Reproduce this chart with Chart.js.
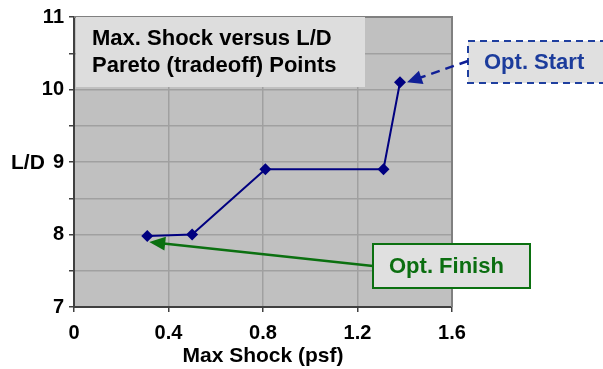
<!DOCTYPE html>
<html>
<head>
<meta charset="utf-8">
<script src="https://cdn.jsdelivr.net/npm/chart.js@4/dist/chart.umd.min.js"></script>
<style>
  html, body { margin: 0; padding: 0; background: #ffffff; }
  #wrap { width: 603px; height: 369px; position: relative; }
</style>
</head>
<body>
<div id="wrap"><canvas id="c" width="603" height="369"></canvas></div>
<script>
// Pareto points: maximum sonic-boom shock vs. lift/drag
const maxShock = [0.31, 0.5, 0.81, 1.31, 1.38];
const liftDrag = [7.98, 8.0, 8.9, 8.9, 10.1];
const xTickValues = [0, 0.4, 0.8, 1.2, 1.6];
const yTickValues = [7, 8, 9, 10, 11];
const titleLines = ['Max. Shock versus L/D', 'Pareto (tradeoff) Points'];
const startLabel = 'Opt. Start';
const finishLabel = 'Opt. Finish';
const startIndex = maxShock.length - 1;
const finishIndex = 0;

const FONT = "'Liberation Sans', Arial, sans-serif";

function arrowHead(ctx, x0, y0, x1, y1, len, half, color) {
  const a = Math.atan2(y1 - y0, x1 - x0);
  ctx.save();
  ctx.fillStyle = color;
  ctx.beginPath();
  ctx.moveTo(x1, y1);
  ctx.lineTo(x1 - len * Math.cos(a) + half * Math.sin(a), y1 - len * Math.sin(a) - half * Math.cos(a));
  ctx.lineTo(x1 - len * Math.cos(a) - half * Math.sin(a), y1 - len * Math.sin(a) + half * Math.cos(a));
  ctx.closePath();
  ctx.fill();
  ctx.restore();
}

const decorations = {
  id: 'decorations',
  beforeDatasetsDraw(chart) {
    const { ctx, chartArea: a } = chart;
    // frame on top and right sides
    ctx.save();
    ctx.strokeStyle = '#808080';
    ctx.lineWidth = 2;
    ctx.beginPath();
    ctx.moveTo(a.left, a.top);
    ctx.lineTo(a.right, a.top);
    ctx.lineTo(a.right, a.bottom);
    ctx.stroke();
    // title box inside the plot
    ctx.fillStyle = '#dddddd';
    ctx.fillRect(a.left + 2, a.top, 289, 70);
    ctx.fillStyle = '#000000';
    ctx.font = 'bold 22px ' + FONT;
    ctx.textBaseline = 'alphabetic';
    ctx.textAlign = 'left';
    ctx.fillText(titleLines[0], a.left + 18, a.top + 28);
    ctx.fillText(titleLines[1], a.left + 18, a.top + 55);
    ctx.restore();
  },
  afterDatasetsDraw(chart) {
    const { ctx, scales } = chart;
    const xs = scales.x, ys = scales.y;

    // axis title on the left, horizontal
    ctx.save();
    ctx.fillStyle = '#000000';
    ctx.font = 'bold 21px ' + FONT;
    ctx.textAlign = 'left';
    ctx.textBaseline = 'middle';
    ctx.fillText('L/D', 11, ys.getPixelForValue(9) + 1);

    // "Opt. Start" callout
    const sx = xs.getPixelForValue(maxShock[startIndex]) + 7;
    const sy = ys.getPixelForValue(liftDrag[startIndex]);
    const sb = { x: 468, y: 41, w: 150, h: 42 };
    ctx.fillStyle = '#e0e0e0';
    ctx.fillRect(sb.x, sb.y, sb.w, sb.h);
    ctx.setLineDash([7, 5]);
    ctx.strokeStyle = '#1f3f9f';
    ctx.lineWidth = 2;
    ctx.strokeRect(sb.x, sb.y, sb.w, sb.h);
    ctx.strokeStyle = '#101f96';
    ctx.lineWidth = 2.5;
    ctx.setLineDash([9, 6]);
    ctx.beginPath();
    ctx.moveTo(sb.x, sb.y + 20);
    const ang = Math.atan2(sy - (sb.y + 20), sx - sb.x);
    ctx.lineTo(sx - 12 * Math.cos(ang), sy - 12 * Math.sin(ang));
    ctx.stroke();
    ctx.setLineDash([]);
    arrowHead(ctx, sb.x, sb.y + 20, sx, sy, 15, 7, '#101f96');
    ctx.fillStyle = '#1c3c9c';
    ctx.font = 'bold 22px ' + FONT;
    ctx.textBaseline = 'middle';
    ctx.fillText(startLabel, sb.x + 16, sb.y + 22);

    // "Opt. Finish" callout
    const fx = xs.getPixelForValue(maxShock[finishIndex]) + 2;
    const fy = ys.getPixelForValue(liftDrag[finishIndex]) + 6;
    const fb = { x: 373, y: 244, w: 157, h: 44 };
    ctx.fillStyle = '#e0e0e0';
    ctx.fillRect(fb.x, fb.y, fb.w, fb.h);
    ctx.strokeStyle = '#0b7010';
    ctx.lineWidth = 2;
    ctx.strokeRect(fb.x, fb.y, fb.w, fb.h);
    const fa = Math.atan2(fy - (fb.y + 22), fx - fb.x);
    ctx.lineWidth = 2.5;
    ctx.beginPath();
    ctx.moveTo(fb.x, fb.y + 22);
    ctx.lineTo(fx - 12 * Math.cos(fa), fy - 12 * Math.sin(fa));
    ctx.stroke();
    arrowHead(ctx, fb.x, fb.y + 22, fx, fy, 16, 7, '#0b7010');
    ctx.fillStyle = '#0b6e10';
    ctx.fillText(finishLabel, fb.x + 16, fb.y + 23);
    ctx.restore();
  }
};

const plotBackground = {
  id: 'plotBackground',
  beforeDraw(chart) {
    const { ctx, chartArea: a } = chart;
    ctx.save();
    ctx.fillStyle = '#c0c0c0';
    ctx.fillRect(a.left, a.top, a.right - a.left, a.bottom - a.top);
    ctx.restore();
  }
};

new Chart(document.getElementById('c'), {
  type: 'scatter',
  data: {
    datasets: [{
      data: maxShock.map((x, i) => ({ x, y: liftDrag[i] })),
      showLine: true,
      borderColor: '#000080',
      backgroundColor: '#000080',
      borderWidth: 2,
      pointStyle: 'rectRot',
      pointRadius: 6,
      pointBorderWidth: 0,
      tension: 0
    }]
  },
  options: {
    responsive: false,
    animation: false,
    events: [],
    layout: { padding: { top: 15, right: 151, left: 0, bottom: 0 } },
    plugins: { legend: { display: false }, tooltip: { enabled: false } },
    scales: {
      x: {
        type: 'linear',
        min: xTickValues[0],
        max: xTickValues[xTickValues.length - 1],
        afterFit(s) { s.height = 62; },
        afterBuildTicks(s) { s.ticks = xTickValues.map(v => ({ value: v })); },
        ticks: {
          color: '#000000',
          font: { family: FONT, size: 20, weight: 'bold' },
          padding: 9,
          maxRotation: 0,
          autoSkip: false,
          callback: v => (v === 0 ? '0' : v.toFixed(1))
        },
        grid: { color: '#a0a0a0', lineWidth: 1.5, tickLength: 5, tickColor: '#404040' },
        border: { color: '#404040', width: 2 },
        title: {
          display: true,
          text: 'Max Shock (psf)',
          color: '#000000',
          font: { family: FONT, size: 21, weight: 'bold' },
          padding: { top: 0, bottom: 0 }
        }
      },
      y: {
        type: 'linear',
        min: yTickValues[0],
        max: yTickValues[yTickValues.length - 1],
        afterFit(s) { s.width = 74; },
        ticks: {
          stepSize: 0.5,
          color: '#000000',
          font: { family: FONT, size: 20, weight: 'bold' },
          padding: 5,
          autoSkip: false,
          callback: v => (yTickValues.includes(v) ? String(v) : '')
        },
        grid: { color: '#a0a0a0', lineWidth: 1.5, tickLength: 5, tickColor: '#404040' },
        border: { color: '#404040', width: 2 }
      }
    }
  },
  plugins: [plotBackground, decorations]
});
</script>
</body>
</html>
